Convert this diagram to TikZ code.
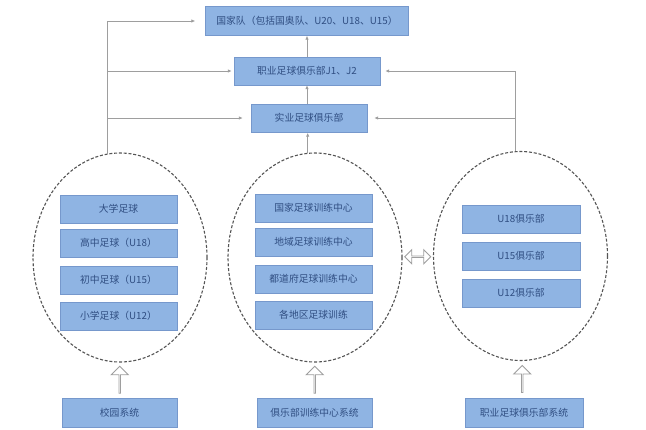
\documentclass[tikz,border=0pt]{standalone}
\usepackage{fontspec}
\newfontfamily\cjk{Noto Sans CJK SC}
\usepackage{tikz}
\usetikzlibrary{arrows.meta,shapes.geometric,shapes.arrows,calc,shadows}
\definecolor{boxblue}{RGB}{143,180,227}
\definecolor{boxline}{RGB}{118,152,204}
\definecolor{txtblue}{RGB}{48,78,130}
\definecolor{linegray}{RGB}{158,158,158}
\definecolor{ellgray}{RGB}{85,85,85}

\begin{document}
\begin{tikzpicture}[x=1pt, y=-1pt,
    box/.style={draw=boxline, fill=boxblue, minimum width=117pt, minimum height=28pt, inner sep=1pt,
        font=\cjk\fontsize{9.8}{11}\selectfont, text=txtblue,
        drop shadow={shadow xshift=0.8pt, shadow yshift=-0.8pt, opacity=0.25}},
    group/.style={ellipse, draw=ellgray, dashed, dash pattern=on 3pt off 1.8pt, line width=1.1pt,
        minimum width=174pt, minimum height=209pt, inner sep=0pt},
    line/.style={draw=linegray, line width=0.9pt},
    arr/.style={line, -{Latex[length=4pt,width=3.5pt]}},
    fatarr/.style={single arrow, draw=linegray, fill=white, line width=0.9pt, rotate=90,
        minimum height=27pt, minimum width=17pt, inner sep=0pt, single arrow head extend=4.5pt},
    twoarr/.style={double arrow, draw=linegray, fill=white, line width=0.9pt,
        minimum height=26pt, minimum width=14pt, inner sep=0pt, double arrow head extend=4pt}
]
\useasboundingbox (0,0) rectangle (646,429);

% top levels
\node[box, minimum width=203pt, minimum height=29pt] (nt) at (307,21) {国家队（包括国奥队、U20、U18、U15）};
\node[box, minimum width=146pt] (pro) at (307,71) {职业足球俱乐部J1、J2};
\node[box, minimum width=116pt] (ind) at (309,118) {实业足球俱乐部};

% three groups
\node[group] (ellL) at (120,257.5) {};
\node[group] (ellM) at (315,257.5) {};
\node[group] (ellR) at (520.5,256) {};

\node[box] (uni) at (118.5,209) {大学足球};
\node[box] (high) at (118.5,243) {高中足球（U18）};
\node[box] (mid) at (118.5,280) {初中足球（U15）};
\node[box] (prim) at (118.5,316) {小学足球（U12）};

\node[box] (natc) at (313.5,208) {国家足球训练中心};
\node[box] (regc) at (313.5,242) {地域足球训练中心};
\node[box] (prefc) at (313.5,279) {都道府足球训练中心};
\node[box] (locc) at (313.5,315) {各地区足球训练};

\node[box, minimum width=118pt] (u18) at (521,219) {U18俱乐部};
\node[box, minimum width=118pt] (u15) at (521,256) {U15俱乐部};
\node[box, minimum width=118pt] (u12) at (521,293) {U12俱乐部};

% systems
\node[box, minimum width=115pt, minimum height=29pt] (school) at (119.5,412.5) {校园系统};
\node[box, minimum width=115pt, minimum height=29pt] (clubc) at (314.5,412.5) {俱乐部训练中心系统};
\node[box, minimum width=118pt, minimum height=29pt] (prosys) at (524,412.5) {职业足球俱乐部系统};

% hollow arrows
\node[fatarr] (upL) at ($(school.north)!0.5!(ellL.south)$) {};
\node[fatarr] (upM) at ($(clubc.north)!0.5!(ellM.south)$) {};
\node[fatarr] (upR) at ($(prosys.north)!0.5!(ellR.south)$) {};
\node[twoarr] (link) at ($(ellM.east)!0.5!(ellR.west)$) {};

% connectors
\draw[arr] (ind.north -| pro) -- (pro.south);
\draw[arr] (pro.north) -- (nt.south);
\draw[arr, shorten >=0.5pt] (ellM.94) -- (ellM.94 |- ind.south);

\draw[line] (ellL.97) -- (ellL.97 |- nt);
\draw[arr, shorten >=10pt] (ellL.97 |- nt) -- (nt.west);
\draw[arr, shorten >=2pt] (ellL.97 |- pro) -- (pro.west);
\draw[arr, shorten >=8pt] (ellL.97 |- ind) -- (ind.west);

\draw[line] (ellR.93) -- (ellR.93 |- pro);
\draw[arr, shorten >=5pt] (ellR.93 |- pro) -- (pro.east);
\draw[arr, shorten >=7pt] (ellR.93 |- ind) -- (ind.east);
\end{tikzpicture}
\end{document}
